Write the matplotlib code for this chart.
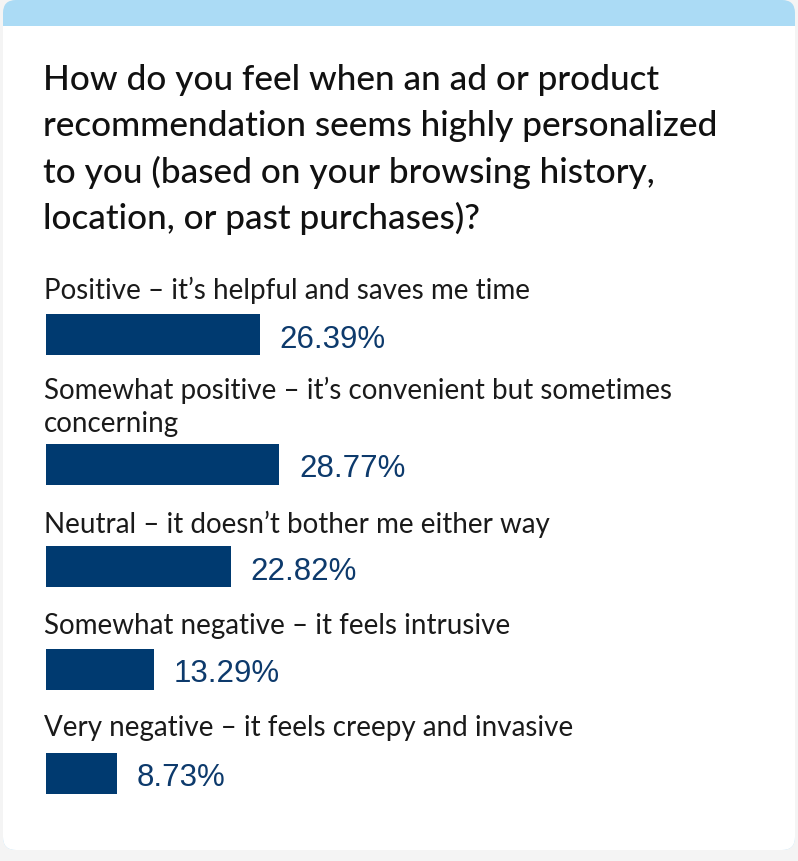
import matplotlib
matplotlib.use("Agg")
import matplotlib.pyplot as plt
from matplotlib.patches import FancyBboxPatch, Rectangle

# survey answers and their shares (%)
title_lines = [
    "How do you feel when an ad or product",
    "recommendation seems highly personalized",
    "to you (based on your browsing history,",
    "location, or past purchases)?",
]
labels = [
    "Positive \u2013 it\u2019s helpful and saves me time",
    "Somewhat positive \u2013 it\u2019s convenient but sometimes\nconcerning",
    "Neutral \u2013 it doesn\u2019t bother me either way",
    "Somewhat negative \u2013 it feels intrusive",
    "Very negative \u2013 it feels creepy and invasive",
]
values = [26.39, 28.77, 22.82, 13.29, 8.73]

W, H = 798, 861
bar_color = "#003a70"
pct_color = "#0d3a6c"

fig = plt.figure(figsize=(W / 100, H / 100), dpi=100)
fig.patch.set_facecolor("#f4f4f4")

# layout axes in pixel coordinates
ax = fig.add_axes([0, 0, 1, 1])
ax.set_xlim(0, W)
ax.set_ylim(H, 0)
ax.axis("off")

# card with blue strip on top
ax.add_patch(FancyBboxPatch((3, 0), 792, 850, boxstyle="round,pad=0,rounding_size=13",
                            fc="#abdbf5", ec="none", zorder=0))
ax.add_patch(FancyBboxPatch((3, 26), 792, 824, boxstyle="round,pad=0,rounding_size=13",
                            fc="white", ec="none", zorder=1))
ax.add_patch(Rectangle((3, 26), 792, 20, fc="white", ec="none", zorder=1))

for i, line in enumerate(title_lines):
    ax.text(43, 80 + 46 * i, line, fontsize=25.3, family="Lato", fontweight="medium",
            color="#111111", va="center", ha="left", zorder=3)

# bar axes: x in percent, y in pixel rows
px_per_pct = 8.1
left = 46
bx = fig.add_axes([left / W, 0, 100 * px_per_pct / W, 1])
bx.set_xlim(0, 100)
bx.set_ylim(H, 0)
bx.axis("off")
bx.patch.set_alpha(0)

label_y = [290, 406.5, 524, 626, 728]
bar_y = [334.5, 464, 566.5, 669.5, 773.5]
bar_h = 41

bx.barh(bar_y, values, height=bar_h, color=bar_color, zorder=3)
for ly, by, lab, v in zip(label_y, bar_y, labels, values):
    bx.text(-0.25, ly, lab, fontsize=20, family="Lato", color="#1a1a1a",
            va="center", ha="left", linespacing=1.32, zorder=3)
    bx.text(v + 2.45, by + 5, f"{v:.2f}%", fontsize=22.5, family="Liberation Sans",
            color=pct_color, va="center", ha="left", zorder=3)

fig.savefig("out.png", dpi=100, facecolor=fig.get_facecolor())
